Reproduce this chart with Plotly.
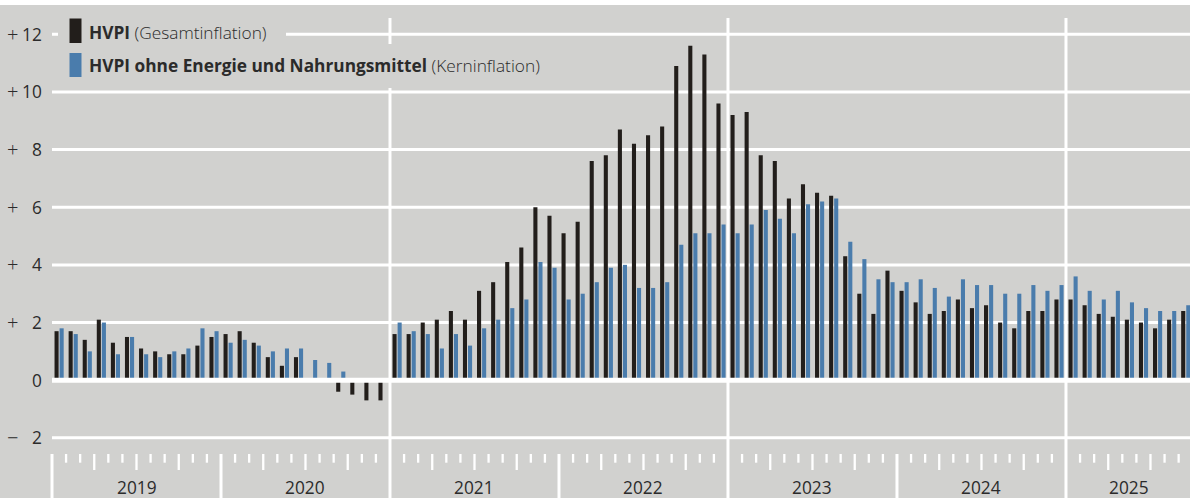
import plotly.graph_objects as go

# ---- data ----
years = ["2019", "2020", "2021", "2022", "2023", "2024", "2025"]
months = [f"{y}-{m:02d}" for y in range(2019, 2026) for m in range(1, 13)][:81]

hvpi = [
    1.7, 1.7, 1.4, 2.1, 1.3, 1.5, 1.1, 1.0, 0.9, 0.9, 1.2, 1.5,
    1.6, 1.7, 1.3, 0.8, 0.5, 0.8, 0.0, 0.0, -0.4, -0.5, -0.7, -0.7,
    1.6, 1.6, 2.0, 2.1, 2.4, 2.1, 3.1, 3.4, 4.1, 4.6, 6.0, 5.7,
    5.1, 5.5, 7.6, 7.8, 8.7, 8.2, 8.5, 8.8, 10.9, 11.6, 11.3, 9.6,
    9.2, 9.3, 7.8, 7.6, 6.3, 6.8, 6.5, 6.4, 4.3, 3.0, 2.3, 3.8,
    3.1, 2.7, 2.3, 2.4, 2.8, 2.5, 2.6, 2.0, 1.8, 2.4, 2.4, 2.8,
    2.8, 2.6, 2.3, 2.2, 2.1, 2.0, 1.8, 2.1, 2.4,
]
kern = [
    1.8, 1.6, 1.0, 2.0, 0.9, 1.5, 0.9, 0.8, 1.0, 1.1, 1.8, 1.7,
    1.3, 1.4, 1.2, 1.0, 1.1, 1.1, 0.7, 0.6, 0.3, 0.0, 0.0, 0.0,
    2.0, 1.7, 1.6, 1.1, 1.6, 1.2, 1.8, 2.1, 2.5, 2.8, 4.1, 3.9,
    2.8, 3.0, 3.4, 3.9, 4.0, 3.2, 3.2, 3.4, 4.7, 5.1, 5.1, 5.4,
    5.1, 5.4, 5.9, 5.6, 5.1, 6.1, 6.2, 6.3, 4.8, 4.2, 3.5, 3.4,
    3.4, 3.5, 3.2, 2.9, 3.5, 3.3, 3.3, 3.0, 3.0, 3.3, 3.1, 3.3,
    3.6, 3.1, 2.8, 3.1, 2.7, 2.5, 2.4, 2.4, 2.6,
]
ytick_vals = [-2, 0, 2, 4, 6, 8, 10, 12]
ytick_signs = ["\u2212", "", "+", "+", "+", "+", "+", "+"]
ytick_nums = ["2", "0", "2", "4", "6", "8", "10", "12"]

# ---- style ----
BG = "#d1d1cf"
BLACK = "#221e1b"
BLUE = "#4a7cac"
TXT = "#2b2b2b"
FONT = "Open Sans"
FS = 17.3

W, H = 1190, 498
ML, MT = 50, 18
PW, PH = W - ML, H - MT
PXM = 14.083                 # px per month
PXU = 28.83                  # px per unit
ZERO_PX = 380.2
x0 = -0.5 - (52 - ML) / PXM
xr = [x0, x0 + PW / PXM]
yr = [(ZERO_PX - H) / PXU, (ZERO_PX - MT) / PXU]

def py2y(py):
    return (ZERO_PX - py) / PXU

def px2p(px):
    return (px - ML) / PW

def py2p(py):
    return (H - py) / PH

x = list(range(len(months)))

fig = go.Figure()
fig.add_trace(go.Bar(x=x, y=hvpi, name="HVPI", marker=dict(color=BLACK, line=dict(width=0)),
                     width=0.29, offset=-0.32))
fig.add_trace(go.Bar(x=x, y=kern, name="Kern", marker=dict(color=BLUE, line=dict(width=0)),
                     width=0.29, offset=0.04))

shapes = []
for v in ytick_vals:
    if v == 0:
        continue
    shapes.append(dict(type="line", xref="x", yref="y", x0=-0.5, x1=xr[1] + 1, y0=v, y1=v,
                       line=dict(color="white", width=3), layer="below"))
shapes.append(dict(type="line", xref="x", yref="y", x0=-0.5, x1=xr[1] + 1, y0=0, y1=0,
                   line=dict(color="white", width=5), layer="above"))
tick_top = py2y(454)
for k in range(0, 82):
    xb = k - 0.5
    if xb > xr[1]:
        break
    if k % 12 == 0:
        full = (k // 12) in (2, 4, 6)
        shapes.append(dict(type="line", xref="x", yref="y", x0=xb, x1=xb,
                           y0=(yr[1] if full else tick_top), y1=yr[0] - 1,
                           line=dict(color="white", width=3), layer="below"))
    elif k % 3 == 0:
        shapes.append(dict(type="line", xref="x", yref="y", x0=xb, x1=xb,
                           y0=tick_top, y1=py2y(470),
                           line=dict(color="white", width=2.3), layer="below"))
    else:
        shapes.append(dict(type="line", xref="x", yref="y", x0=xb, x1=xb,
                           y0=tick_top, y1=py2y(462.7),
                           line=dict(color="white", width=2.3), layer="below"))
shapes.append(dict(type="rect", xref="paper", yref="paper", x0=px2p(-5), x1=px2p(W + 5),
                   y0=py2p(5), y1=py2p(-5), fillcolor="white", line=dict(width=0), layer="above"))
shapes.append(dict(type="rect", xref="paper", yref="paper", x0=px2p(58), x1=px2p(286),
                   y0=py2p(44), y1=py2p(18), fillcolor=BG, line=dict(width=0), layer="above"))
shapes.append(dict(type="rect", xref="paper", yref="paper", x0=px2p(58), x1=px2p(556),
                   y0=py2p(88), y1=py2p(44), fillcolor=BG, line=dict(width=0), layer="above"))
shapes.append(dict(type="rect", xref="paper", yref="paper", x0=px2p(69.5), x1=px2p(81.5),
                   y0=py2p(43), y1=py2p(18.5), fillcolor=BLACK, line=dict(width=0), layer="above"))
shapes.append(dict(type="rect", xref="paper", yref="paper", x0=px2p(69.5), x1=px2p(81.5),
                   y0=py2p(77), y1=py2p(53), fillcolor=BLUE, line=dict(width=0), layer="above"))

ann = []
ann.append(dict(xref="paper", yref="paper", x=px2p(87), y=py2p(32), xanchor="left", yanchor="middle",
                text="<b>HVPI</b> (Gesamtinflation)", showarrow=False,
                font=dict(family=FONT, size=FS, color=TXT, weight=300)))
ann.append(dict(xref="paper", yref="paper", x=px2p(87), y=py2p(65), xanchor="left", yanchor="middle",
                text="<b>HVPI ohne Energie und Nahrungsmittel</b> (Kerninflation)", showarrow=False,
                font=dict(family=FONT, size=FS, color=TXT, weight=300)))
AXF = dict(family=FONT, size=FS, color=TXT, weight=400)
SGF = dict(family=FONT, size=20, color=TXT, weight=300)
for v, s, n in zip(ytick_vals, ytick_signs, ytick_nums):
    if s:
        ann.append(dict(xref="paper", yref="y", x=px2p(5), y=v, xanchor="left", yanchor="middle",
                        text=s, showarrow=False, font=SGF))
    ann.append(dict(xref="paper", yref="y", x=px2p(44), y=v, xanchor="right", yanchor="middle",
                    text=n, showarrow=False, font=AXF))
for i, yl in enumerate(years):
    n_m = min(12, len(months) - 12 * i)
    xc = 12 * i + (n_m - 1) / 2
    ann.append(dict(xref="x", yref="y", x=xc, y=py2y(487), xanchor="center", yanchor="middle",
                    text=yl, showarrow=False, font=AXF))

fig.update_layout(
    width=W, height=H,
    margin=dict(l=ML, r=0, t=MT, b=0, pad=0),
    paper_bgcolor=BG, plot_bgcolor=BG,
    barmode="overlay", showlegend=False,
    xaxis=dict(range=xr, showgrid=False, zeroline=False, showticklabels=False, ticks="", fixedrange=True),
    yaxis=dict(range=yr, showgrid=False, zeroline=False, showticklabels=False, ticks="", fixedrange=True),
    shapes=shapes, annotations=ann,
)
fig.write_html("out.html", config={"displayModeBar": False},
               post_script="document.body.style.margin='0';document.body.style.overflow='hidden';")
